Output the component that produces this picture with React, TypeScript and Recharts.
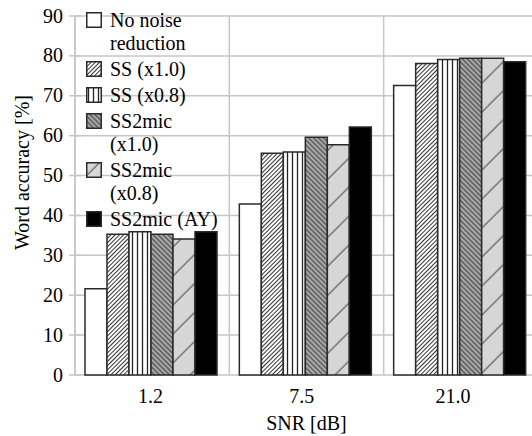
import { BarChart, Bar, XAxis, YAxis, CartesianGrid } from 'recharts'

const categories = ['1.2', '7.5', '21.0']
const noNoise = [21.6, 42.9, 72.6]
const ss10 = [35.3, 55.6, 78.1]
const ss08 = [35.9, 55.9, 79.1]
const ss2mic10 = [35.3, 59.6, 79.4]
const ss2mic08 = [34.1, 57.7, 79.4]
const ss2micAY = [35.9, 62.2, 78.5]
const yTicks = [0, 10, 20, 30, 40, 50, 60, 70, 80, 90]

const series = [
  { key: 'noNoise', lines: ['No noise', 'reduction'], values: noNoise, fill: '#ffffff' },
  { key: 'ss10', lines: ['SS (x1.0)'], values: ss10, fill: 'url(#pSS10)' },
  { key: 'ss08', lines: ['SS (x0.8)'], values: ss08, fill: 'url(#pSS08)' },
  { key: 'ss2mic10', lines: ['SS2mic', '(x1.0)'], values: ss2mic10, fill: 'url(#pM10)' },
  { key: 'ss2mic08', lines: ['SS2mic', '(x0.8)'], values: ss2mic08, fill: 'url(#pM08)' },
  { key: 'ss2micAY', lines: ['SS2mic (AY)'], values: ss2micAY, fill: '#000000' },
]

const data = categories.map((c, i) => {
  const row: Record<string, any> = { name: c }
  series.forEach(s => { row[s.key] = s.values[i] })
  return row
})

const W = 545
const H = 436
const Y_AXIS_W = 75
const PLOT_W = W - 7 - Y_AXIS_W
const FONT = '"Liberation Serif", "Times New Roman", serif'
const TEXT = '#000000'
const GRID = '#c6c6c6'
const EDGE = '#2a2a2a'

const YTick = ({ x, y, payload }: any) => (
  <g>
    <line x1={x - 6} x2={x + 6} y1={y} y2={y} stroke={GRID} strokeWidth={1.5} />
    <text x={x - 12} y={y + 6.5} textAnchor="end" fontFamily={FONT} fontSize={20} fill={TEXT}>
      {payload.value}
    </text>
  </g>
)

const BoundaryTick = ({ x, y }: any) => {
  const bx = x - PLOT_W / categories.length / 2
  return <line x1={bx} x2={bx} y1={y} y2={y + 7} stroke={GRID} strokeWidth={1.5} />
}

const XTick = ({ x, y, payload }: any) => (
  <text x={x} y={y + 27.5} textAnchor="middle" fontFamily={FONT} fontSize={20} fill={TEXT}>
    {payload.value}
  </text>
)

const YLabel = ({ viewBox }: any) => {
  const tx = viewBox.x + 29
  const ty = viewBox.y + viewBox.height / 2 - 23
  return (
    <text x={tx} y={ty} transform={`rotate(-90, ${tx}, ${ty})`} textAnchor="middle"
      fontFamily={FONT} fontSize={20} fill={TEXT}>
      Word accuracy [%]
    </text>
  )
}

const XLabel = ({ viewBox }: any) => (
  <text x={viewBox.x + viewBox.width / 2} y={viewBox.y + 55} textAnchor="middle"
    fontFamily={FONT} fontSize={20} fill={TEXT}>
    SNR [dB]
  </text>
)

function Patterns() {
  return (
    <defs>
      <pattern id="pSS10" patternUnits="userSpaceOnUse" width="3" height="3" patternTransform="rotate(45)">
        <rect width="3" height="3" fill="#ffffff" />
        <line x1="1.5" y1="0" x2="1.5" y2="3" stroke="#333" strokeWidth="1" />
      </pattern>
      <pattern id="pSS08" patternUnits="userSpaceOnUse" width="5" height="5">
        <rect width="5" height="5" fill="#ffffff" />
        <line x1="2.5" y1="0" x2="2.5" y2="5" stroke="#222" strokeWidth="1.3" />
      </pattern>
      <pattern id="pM10" patternUnits="userSpaceOnUse" width="3.5" height="3.5" patternTransform="rotate(-45)">
        <rect width="3.5" height="3.5" fill="#ababab" />
        <line x1="1.75" y1="0" x2="1.75" y2="3.5" stroke="#333" strokeWidth="1" />
      </pattern>
      <pattern id="pM08" patternUnits="userSpaceOnUse" width="20.5" height="20.5" patternTransform="rotate(45)">
        <rect width="20.5" height="20.5" fill="#d6d6d6" />
        <line x1="10" y1="0" x2="10" y2="20.5" stroke="#444" strokeWidth="1" />
      </pattern>
    </defs>
  )
}

function LegendBox() {
  return (
    <div style={{ position: 'absolute', left: 86, top: 9, fontFamily: FONT, fontSize: 20, color: TEXT, lineHeight: '23px' }}>
      {series.map(s => (
        <div key={s.key} style={{ display: 'flex', alignItems: 'flex-start', marginBottom: 3 }}>
          <svg width={16} height={16} style={{ marginTop: 2.5, marginRight: 8, flex: 'none' }}>
            <rect x={0.75} y={0.75} width={14.5} height={14.5} fill={s.fill} stroke={EDGE} strokeWidth={1.5} />
          </svg>
          <div>
            {s.lines.map(l => <div key={l}>{l}</div>)}
          </div>
        </div>
      ))}
    </div>
  )
}

export default function App() {
  return (
    <div style={{ position: 'fixed', left: 0, top: 0, width: 532, height: 436, overflow: 'hidden', background: '#fff' }}>
      <BarChart width={W} height={H} data={data} margin={{ top: 16, right: 7, left: 0, bottom: 0 }}
        barCategoryGap={10} barGap={0}>
        <Patterns />
        <CartesianGrid stroke={GRID} strokeWidth={1.5}
          verticalCoordinatesGenerator={({ offset }: any) =>
            categories.map((_, i) => offset.left + (i * offset.width) / categories.length)} />
        <XAxis dataKey="name" height={0} axisLine={{ stroke: GRID, strokeWidth: 1.5 }} tickLine={false}
          tickSize={0} tickMargin={0} tick={<BoundaryTick />} interval={0} />
        <XAxis xAxisId="lbl" dataKey="name" height={61} axisLine={false} tickLine={false}
          tickSize={0} tickMargin={0} tick={<XTick />} interval={0} padding={{ left: 0, right: 9.4 }}
          label={<XLabel />} />
        <YAxis width={Y_AXIS_W} domain={[0, 90]} ticks={yTicks} interval={0}
          axisLine={{ stroke: GRID, strokeWidth: 1.5 }} tickLine={false} tickSize={0} tickMargin={0}
          tick={<YTick />} label={<YLabel />} />
        {series.map(s => (
          <Bar key={s.key} dataKey={s.key} fill={s.fill} stroke={EDGE} strokeWidth={1.5}
            isAnimationActive={false} />
        ))}
      </BarChart>
      <LegendBox />
    </div>
  )
}
